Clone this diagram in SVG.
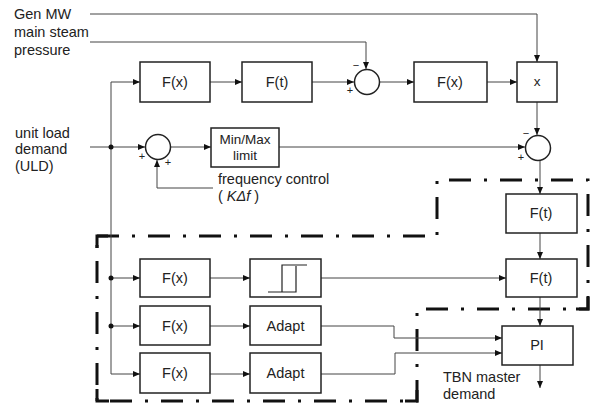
<svg xmlns="http://www.w3.org/2000/svg" width="594" height="404" viewBox="0 0 594 404">
<style>
text{font-family:"Liberation Sans",Arial,sans-serif;fill:#222}
.lbl{font-size:14.5px}
.t{font-size:14.5px}
.box{fill:#fff;stroke:#222;stroke-width:1.5}
.c{fill:#fff;stroke:#222;stroke-width:1.5}
.w{fill:none;stroke:#444;stroke-width:1}
.s{font-size:13.5px}
.sg{font-size:11px}
.dd{fill:none;stroke:#111;stroke-width:3;stroke-dasharray:22 13 3 13}
.cr{fill:none;stroke:#111;stroke-width:3}
</style>
<defs>
<marker id="a" markerWidth="8" markerHeight="8" refX="7" refY="4" orient="auto" markerUnits="userSpaceOnUse">
<path d="M0,1 L7,4 L0,7 Z" fill="#111"/>
</marker>
</defs>
<rect width="594" height="404" fill="#fff"/>
<g id="boundary">
<path class="dd" d="M97,236 H437 V180 H588 V309 H417 V401 H97 Z"/>
<path class="cr" d="M97,248 V236 H108"/>
<path class="cr" d="M97,389 V401 H109"/>
<path class="cr" d="M405,401 H417 V390"/>
<path class="cr" d="M576,309 H588 V297"/>
</g>
<g id="connectors">
<path class="w" d="M90,14 H537 V62" marker-end="url(#a)"/>
<path class="w" d="M90,42 H366 V69" marker-end="url(#a)"/>
<path class="w" d="M111,374 V82 H140" marker-end="url(#a)"/>
<path class="w" d="M210,82 H242" marker-end="url(#a)"/>
<path class="w" d="M312,82 H354" marker-end="url(#a)"/>
<path class="w" d="M379,82 H414" marker-end="url(#a)"/>
<path class="w" d="M487,82 H517" marker-end="url(#a)"/>
<path class="w" d="M537,102 V135" marker-end="url(#a)"/>
<path class="w" d="M90,147 H145" marker-end="url(#a)"/>
<path class="w" d="M171,147 H211" marker-end="url(#a)"/>
<path class="w" d="M213,188 H157 V160" marker-end="url(#a)"/>
<path class="w" d="M279,147 H525" marker-end="url(#a)"/>
<path class="w" d="M540,160 V194" marker-end="url(#a)"/>
<path class="w" d="M540,233 V259" marker-end="url(#a)"/>
<path class="w" d="M540,297 V326" marker-end="url(#a)"/>
<path class="w" d="M540,365 V388" marker-end="url(#a)"/>
<path class="w" d="M111,278 H140" marker-end="url(#a)"/>
<path class="w" d="M111,326 H140" marker-end="url(#a)"/>
<path class="w" d="M111,374 H140" marker-end="url(#a)"/>
<path class="w" d="M210,278 H250" marker-end="url(#a)"/>
<path class="w" d="M210,326 H250" marker-end="url(#a)"/>
<path class="w" d="M210,374 H250" marker-end="url(#a)"/>
<path class="w" d="M321,278 H506" marker-end="url(#a)"/>
<path class="w" d="M321,326 H394 V338 H502" marker-end="url(#a)"/>
<path class="w" d="M321,374 H395 V353 H502" marker-end="url(#a)"/>
<circle cx="111" cy="147" r="2.5" fill="#111"/>
<circle cx="111" cy="278" r="2.5" fill="#111"/>
<circle cx="111" cy="326" r="2.5" fill="#111"/>
</g>
<g id="inputs">
<text class="t" x="14" y="19">Gen MW</text>
<text class="t" x="14" y="37">main steam</text>
<text class="t" x="14" y="55">pressure</text>
<text class="t" x="15" y="138">unit load</text>
<text class="t" x="15" y="154">demand</text>
<text class="t" x="15" y="171">(ULD)</text>
<text class="t" x="218" y="184">frequency control</text>
<text class="t" x="218" y="201">( <tspan font-style="italic">KΔf</tspan> )</text>
<text class="t" x="443" y="382">TBN master</text>
<text class="t" x="443" y="399">demand</text>
</g>
<g id="fx1"><rect class="box" x="140" y="62" width="70" height="40"/><text class="lbl" x="175" y="87" text-anchor="middle">F(x)</text></g>
<g id="ft1"><rect class="box" x="242" y="62" width="70" height="40"/><text class="lbl" x="277" y="87" text-anchor="middle">F(t)</text></g>
<g id="sum1"><circle class="c" cx="367" cy="82" r="12.5"/><text class="sg" x="356" y="69" text-anchor="middle">−</text><text class="sg" x="350" y="94" text-anchor="middle">+</text></g>
<g id="fx2"><rect class="box" x="414" y="62" width="73" height="40"/><text class="lbl" x="450" y="87" text-anchor="middle">F(x)</text></g>
<g id="mul"><rect class="box" x="517" y="62" width="40" height="40"/><text class="s" x="537" y="86" text-anchor="middle">x</text></g>
<g id="sum2"><circle class="c" cx="158" cy="147" r="12.5"/><text class="sg" x="142" y="160" text-anchor="middle">+</text><text class="sg" x="168" y="166" text-anchor="middle">+</text></g>
<g id="minmax"><rect class="box" x="211" y="128" width="68" height="39"/><text class="s" x="245" y="144" text-anchor="middle">Min/Max</text><text class="s" x="245" y="160" text-anchor="middle">limit</text></g>
<g id="sum3"><circle class="c" cx="538" cy="148" r="12.5"/><text class="sg" x="526" y="137" text-anchor="middle">−</text><text class="sg" x="521" y="161" text-anchor="middle">+</text></g>
<g id="ft2"><rect class="box" x="506" y="194" width="71" height="39"/><text class="lbl" x="541" y="218" text-anchor="middle">F(t)</text></g>
<g id="fx3"><rect class="box" x="140" y="259" width="70" height="38"/><text class="lbl" x="175" y="283" text-anchor="middle">F(x)</text></g>
<g id="hyst"><rect class="box" x="250" y="259" width="71" height="38"/><path d="M268,292 H296 V266 M282,292 V265 H307" fill="none" stroke="#222" stroke-width="1.2"/></g>
<g id="ft3"><rect class="box" x="506" y="259" width="71" height="38"/><text class="lbl" x="541" y="283" text-anchor="middle">F(t)</text></g>
<g id="fx4"><rect class="box" x="140" y="306" width="70" height="39"/><text class="lbl" x="175" y="331" text-anchor="middle">F(x)</text></g>
<g id="adapt1"><rect class="box" x="250" y="306" width="71" height="39"/><text class="lbl" x="285.5" y="331" text-anchor="middle">Adapt</text></g>
<g id="fx5"><rect class="box" x="140" y="353" width="70" height="40"/><text class="lbl" x="175" y="378" text-anchor="middle">F(x)</text></g>
<g id="adapt2"><rect class="box" x="250" y="353" width="71" height="40"/><text class="lbl" x="285.5" y="378" text-anchor="middle">Adapt</text></g>
<g id="pi"><rect class="box" x="502" y="326" width="71" height="39"/><text class="lbl" x="537" y="350" text-anchor="middle">PI</text></g>
</svg>
